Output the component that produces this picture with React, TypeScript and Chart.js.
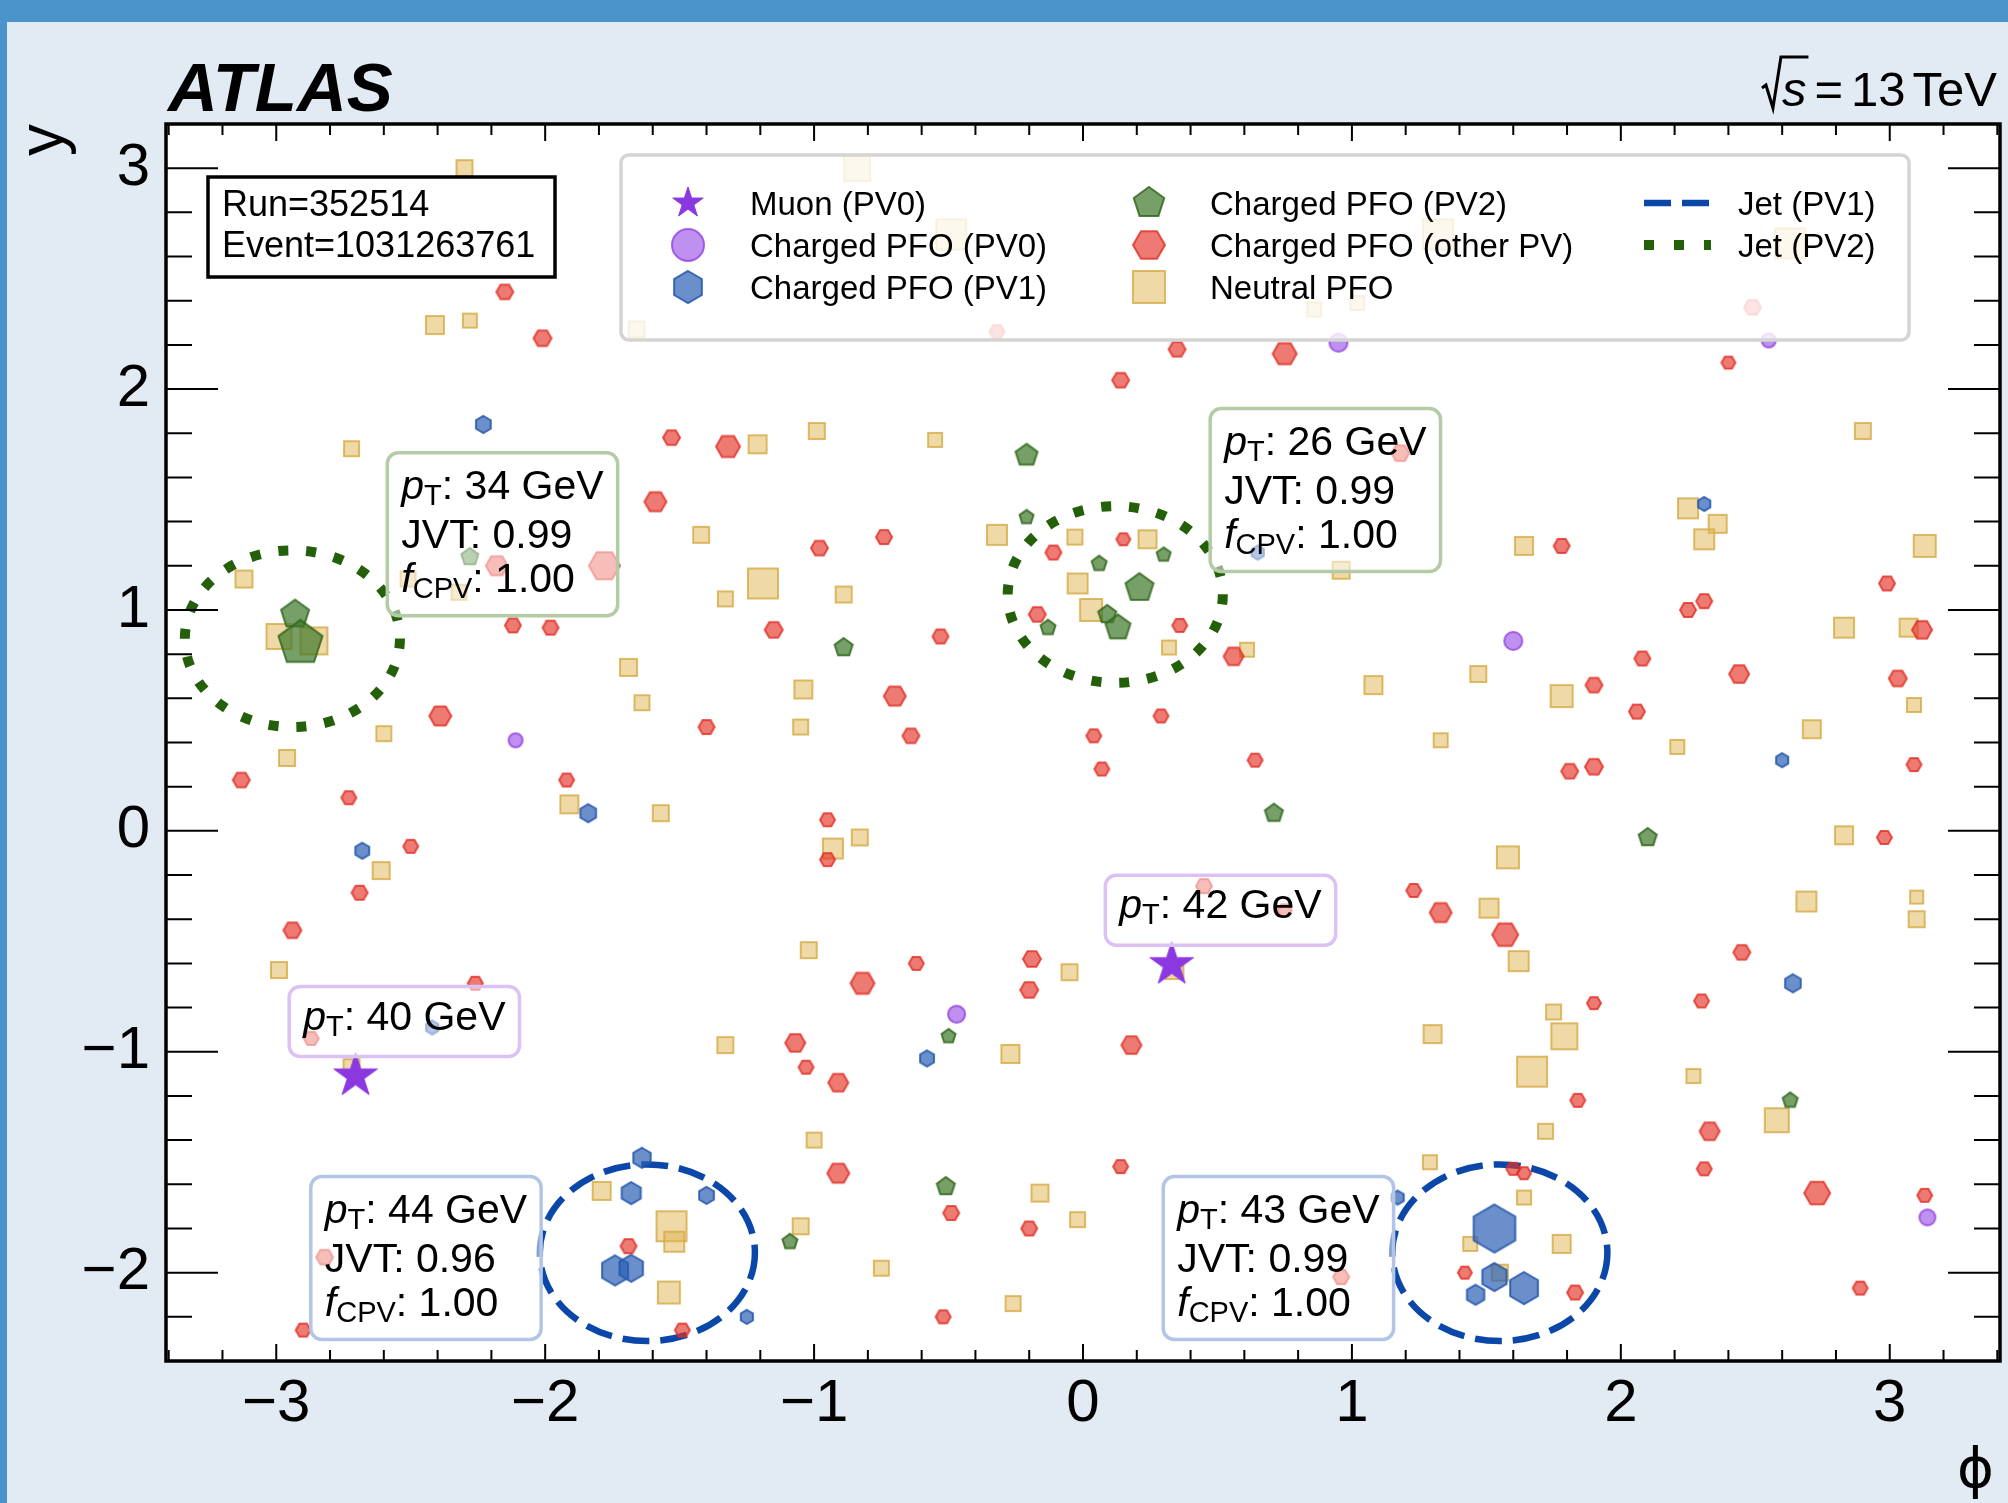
import React, { useEffect, useRef } from 'react';
import { Chart, registerables } from 'chart.js';

Chart.register(...registerables);

const W = 2008;
const H = 1503;
const PLOT = { left: 166, top: 124, right: 2000, bottom: 1361 };
const FONT = '"Liberation Sans", Arial, Helvetica, sans-serif';

// ---------------- axes ----------------
const X_MIN = -3.41;
const X_MAX = 3.41;
const Y_MIN = -2.4;
const Y_MAX = 3.2;
const X_TICKS = [-3, -2, -1, 0, 1, 2, 3];
const Y_TICKS = [-2, -1, 0, 1, 2, 3];

// ---------------- event info ----------------
const RUN = '352514';
const EVENT = '1031263761';

// ---------------- jets ----------------
const JET_PHI = [-2.94, 0.12, -1.62, 1.55];
const JET_Y = [0.87, 1.07, -1.91, -1.91];
const JET_PT = [34, 26, 44, 43];
const JET_JVT = ['0.99', '0.99', '0.96', '0.99'];
const JET_FCPV = ['1.00', '1.00', '1.00', '1.00'];
const JET_VTX = ['PV2', 'PV2', 'PV1', 'PV1'];
const JET_R = 0.4;

// ---------------- muons ----------------
const MUON_PHI = [-2.705, 0.33];
const MUON_Y = [-1.11, -0.606];
const MUON_PT = [40, 42];

// ---------------- PFOs: [phi, y, energy weight] ----------------
const NEUTRAL_PFO: number[][] = [
  [-2.30, 3.00, 1.6], [-2.41, 2.29, 1.8], [-2.28, 2.31, 1.4], [-0.84, 3.00, 2.6], [-0.49, 2.70, 3.0],
  [-1.66, 2.27, 1.6], [-2.72, 1.73, 1.5], [-1.21, 1.75, 1.8], [-0.99, 1.81, 1.6], [-0.55, 1.77, 1.4],
  [-1.42, 1.34, 1.6], [-3.12, 1.14, 1.7], [-2.51, 1.14, 1.5], [-2.32, 1.08, 1.5], [-1.19, 1.12, 3.0],
  [-1.33, 1.05, 1.5], [-0.89, 1.07, 1.6], [-0.32, 1.34, 2.0], [-0.03, 1.33, 1.5], [-0.02, 1.12, 2.0],
  [0.03, 1.00, 2.2], [-2.99, 0.88, 2.5], [-2.86, 0.86, 2.7], [-1.69, 0.74, 1.7], [-1.64, 0.58, 1.5],
  [-1.04, 0.64, 1.8], [-1.05, 0.47, 1.5], [-2.60, 0.44, 1.5], [-2.96, 0.33, 1.6], [0.24, 1.32, 1.8],
  [0.32, 0.83, 1.4], [0.61, 0.82, 1.4], [0.96, 1.18, 1.7], [1.08, 0.66, 1.8], [1.32, 2.70, 3.0],
  [2.63, 2.66, 3.0], [0.86, 2.36, 1.4], [1.02, 2.39, 1.4], [2.90, 1.81, 1.6], [2.25, 1.46, 2.0],
  [2.36, 1.39, 1.8], [2.31, 1.32, 2.0], [3.13, 1.29, 2.2], [1.64, 1.29, 1.8], [2.83, 0.92, 2.0],
  [3.07, 0.92, 1.8], [1.47, 0.71, 1.6], [1.78, 0.61, 2.2], [3.09, 0.57, 1.4], [2.71, 0.46, 1.8],
  [1.33, 0.41, 1.4], [2.21, 0.38, 1.4], [-1.91, 0.12, 1.8], [-1.57, 0.08, 1.6], [-2.61, -0.18, 1.7],
  [-0.93, -0.08, 2.0], [-0.83, -0.03, 1.6], [-2.99, -0.63, 1.6], [-1.02, -0.54, 1.6], [-0.05, -0.64, 1.6],
  [-1.33, -0.97, 1.6], [-0.27, -1.01, 1.8], [-1.00, -1.40, 1.5], [-1.79, -1.63, 1.8], [-1.53, -1.79, 3.0],
  [-1.52, -1.86, 2.0], [-1.54, -2.09, 2.2], [-1.05, -1.79, 1.6], [-0.75, -1.98, 1.5], [-0.16, -1.64, 1.7],
  [-0.02, -1.76, 1.5], [-0.26, -2.14, 1.5], [-2.72, -1.07, 1.6], [2.83, -0.02, 1.8], [1.58, -0.12, 2.2],
  [2.69, -0.32, 2.0], [3.10, -0.30, 1.3], [3.10, -0.40, 1.6], [1.51, -0.35, 1.9], [1.62, -0.59, 2.0],
  [0.34, -0.63, 1.8], [1.75, -0.82, 1.5], [1.30, -0.92, 1.8], [1.79, -0.93, 2.6], [1.67, -1.09, 3.0],
  [2.27, -1.11, 1.4], [2.58, -1.31, 2.4], [1.72, -1.36, 1.5], [1.29, -1.50, 1.4], [1.64, -1.66, 1.4],
  [1.78, -1.87, 1.8], [1.44, -1.87, 1.4], [1.55, -2.00, 1.6],
];

const OTHER_PV_PFO: number[][] = [
  [-2.15, 2.44, 1.7], [-2.01, 2.23, 1.8], [-1.53, 1.78, 1.7], [-1.32, 1.74, 2.4], [-1.59, 1.49, 2.2],
  [-0.74, 1.33, 1.6], [-0.98, 1.28, 1.7], [-0.11, 1.26, 1.6], [-0.17, 0.98, 1.7], [-2.18, 1.20, 2.2],
  [-1.78, 1.20, 3.1], [-2.12, 0.93, 1.6], [-1.98, 0.92, 1.6], [-1.15, 0.91, 1.8], [-0.53, 0.88, 1.6],
  [-0.70, 0.61, 2.2], [-2.39, 0.52, 2.2], [-1.40, 0.47, 1.6], [-0.64, 0.43, 1.7], [-0.32, 2.26, 1.5],
  [0.15, 1.32, 1.4], [0.36, 0.93, 1.5], [0.56, 0.79, 2.0], [0.29, 0.52, 1.5], [0.04, 0.43, 1.5],
  [0.35, 2.18, 1.7], [0.75, 2.16, 2.4], [0.14, 2.04, 1.7], [2.40, 2.12, 1.4], [2.49, 2.37, 1.7],
  [1.18, 1.71, 1.8], [1.78, 1.29, 1.6], [2.99, 1.12, 1.6], [2.31, 1.04, 1.6], [2.25, 1.00, 1.6],
  [3.12, 0.91, 2.0], [2.08, 0.78, 1.6], [2.44, 0.71, 2.0], [1.90, 0.66, 1.7], [3.03, 0.69, 1.8],
  [2.06, 0.54, 1.6], [-3.13, 0.23, 1.7], [-2.73, 0.15, 1.5], [-2.50, -0.07, 1.5], [-2.69, -0.28, 1.6],
  [-2.94, -0.45, 1.8], [-1.92, 0.23, 1.5], [-2.26, -0.69, 1.5], [-2.87, -0.94, 1.5], [-0.95, 0.05, 1.5],
  [-0.95, -0.13, 1.5], [-0.82, -0.69, 2.4], [-0.62, -0.60, 1.5], [-0.19, -0.58, 1.8], [-0.20, -0.72, 1.8],
  [-1.07, -0.96, 2.0], [-1.03, -1.07, 1.5], [-0.91, -1.14, 2.0], [-0.91, -1.55, 2.2], [-0.49, -1.73, 1.6],
  [-0.20, -1.80, 1.6], [-1.69, -1.88, 1.6], [-2.82, -1.93, 1.7], [-2.90, -2.26, 1.5], [-1.49, -2.26, 1.5],
  [-0.52, -2.20, 1.5], [0.07, 0.28, 1.5], [0.64, 0.32, 1.5], [1.81, 0.27, 1.7], [1.90, 0.29, 1.8],
  [3.09, 0.30, 1.5], [2.98, -0.03, 1.5], [0.45, -0.25, 1.6], [0.75, -0.36, 1.4], [1.23, -0.27, 1.5],
  [1.33, -0.37, 2.2], [1.57, -0.47, 2.6], [2.45, -0.55, 1.7], [2.30, -0.77, 1.5], [1.90, -0.78, 1.4],
  [0.18, -0.97, 2.0], [1.84, -1.22, 1.5], [2.33, -1.36, 2.0], [0.14, -1.52, 1.5], [2.31, -1.53, 1.5],
  [1.60, -1.53, 1.4], [1.64, -1.55, 1.4], [2.73, -1.64, 2.6], [3.13, -1.65, 1.5], [1.42, -2.00, 1.4],
  [1.83, -2.09, 1.6], [2.89, -2.07, 1.5], [0.96, -2.02, 1.6],
];

const PV2_PFO: number[][] = [
  [-0.21, 1.70, 2.2], [-2.28, 1.24, 1.7], [-2.93, 0.98, 2.8], [-2.91, 0.85, 4.4], [-0.89, 0.83, 1.8],
  [-0.21, 1.42, 1.4], [-0.13, 0.92, 1.5], [0.06, 1.21, 1.5], [0.30, 1.25, 1.4], [0.21, 1.10, 2.8],
  [0.09, 0.98, 1.8], [0.13, 0.92, 2.5], [-0.50, -0.93, 1.4], [-0.51, -1.61, 1.8], [-1.09, -1.86, 1.5],
  [0.71, 0.08, 1.8], [2.10, -0.03, 1.8], [2.63, -1.22, 1.5],
];

const PV1_PFO: number[][] = [
  [-2.23, 1.84, 1.7], [0.65, 1.26, 1.4], [2.31, 1.48, 1.4], [-2.68, -0.09, 1.6], [-1.84, 0.08, 1.8],
  [-2.42, -0.89, 1.4], [-0.58, -1.03, 1.6], [-1.64, -1.48, 2.0], [-1.68, -1.64, 2.2], [-1.40, -1.65, 1.7],
  [-1.74, -1.99, 3.0], [-1.68, -1.98, 2.7], [-1.25, -2.20, 1.4], [2.60, 0.32, 1.4], [2.64, -0.69, 1.8],
  [1.17, -1.66, 1.4], [1.53, -1.80, 4.8], [1.53, -2.02, 2.8], [1.64, -2.07, 3.2], [1.46, -2.10, 2.0],
];

const PV0_PFO: number[][] = [
  [-2.11, 0.41, 1.4], [-0.47, -0.83, 1.7], [0.95, 2.21, 1.8], [2.55, 2.22, 1.4], [1.60, 0.86, 1.8],
  [3.14, -1.75, 1.6],
];

// ---------------- style ----------------
const C = {
  pageBg: '#e2eaf4',
  bar: '#4a93cb',
  neutralFill: 'rgba(222,180,80,0.5)',
  neutralEdge: 'rgba(214,170,70,0.8)',
  otherFill: 'rgba(228,50,40,0.65)',
  otherEdge: 'rgba(225,45,35,0.8)',
  pv2Fill: 'rgba(61,118,40,0.7)',
  pv2Edge: 'rgba(50,105,30,0.85)',
  pv1Fill: 'rgba(43,95,180,0.7)',
  pv1Edge: 'rgba(35,85,170,0.85)',
  pv0Fill: 'rgba(150,70,230,0.6)',
  pv0Edge: 'rgba(145,65,225,0.8)',
  muon: '#8c38e0',
  jetPV1: '#0a47a9',
  jetPV2: '#245f0a',
  boxPV2: '#b4cca6',
  boxPV1: '#b2c5e6',
  boxMuon: '#dcc1f5',
  legendEdge: '#d4d4d4',
};

type Kind = { shape: string; fill: string; edge: string; lw: number; k: number };
const KINDS: Record<string, Kind> = {
  neutral: { shape: 'square', fill: C.neutralFill, edge: C.neutralEdge, lw: 2, k: 5 },
  other: { shape: 'hexH', fill: C.otherFill, edge: C.otherEdge, lw: 2, k: 5 },
  pv2: { shape: 'pent', fill: C.pv2Fill, edge: C.pv2Edge, lw: 2, k: 5.26 },
  pv1: { shape: 'hexV', fill: C.pv1Fill, edge: C.pv1Edge, lw: 2, k: 5 },
  pv0: { shape: 'circle', fill: C.pv0Fill, edge: C.pv0Edge, lw: 2, k: 5 },
  muon: { shape: 'star', fill: C.muon, edge: C.muon, lw: 1, k: 0 },
};
const MUON_R = 23;

function shapePath(g: CanvasRenderingContext2D, shape: string, x: number, y: number, r: number) {
  g.beginPath();
  if (shape === 'square') {
    g.rect(x - r, y - r, 2 * r, 2 * r);
  } else if (shape === 'circle') {
    g.arc(x, y, r, 0, Math.PI * 2);
  } else {
    let n = 6;
    let start = -Math.PI / 2;
    let inner = 0;
    if (shape === 'hexH') start = 0;
    if (shape === 'pent') n = 5;
    if (shape === 'star') {
      n = 5;
      inner = 0.382;
    }
    const pts = inner ? n * 2 : n;
    for (let i = 0; i < pts; i++) {
      const ang = start + (i * 2 * Math.PI) / pts;
      const rr = inner && i % 2 === 1 ? r * inner : r;
      const px = x + rr * Math.cos(ang);
      const py = y + rr * Math.sin(ang);
      if (i === 0) g.moveTo(px, py);
      else g.lineTo(px, py);
    }
    g.closePath();
  }
}

function drawMarker(g: CanvasRenderingContext2D, kind: Kind, x: number, y: number, r: number) {
  shapePath(g, kind.shape, x, y, r);
  g.fillStyle = kind.fill;
  g.fill();
  g.lineWidth = kind.lw;
  g.strokeStyle = kind.edge;
  g.lineJoin = 'miter';
  g.stroke();
}

function makeMarkerCanvas(kind: Kind, r: number) {
  const size = Math.ceil(2 * r + kind.lw + 6);
  const c = document.createElement('canvas');
  c.width = size;
  c.height = size;
  const g = c.getContext('2d') as CanvasRenderingContext2D;
  drawMarker(g, kind, size / 2, size / 2, r);
  return c;
}

function makeDataset(label: string, pts: number[][], kind: Kind, order: number, fixedR?: number) {
  const radii = pts.map((p) => (fixedR ? fixedR : p[2] * kind.k));
  const styles = radii.map((r) => makeMarkerCanvas(kind, r));
  return {
    label,
    data: pts.map((p) => ({ x: p[0], y: p[1] })),
    pointStyle: (c: any) => (c.dataIndex !== undefined ? styles[c.dataIndex] : 'circle'),
    pointRadius: (c: any) => (c.dataIndex !== undefined ? radii[c.dataIndex] : 5),
    order,
  };
}

const fmt = (v: number) => (v < 0 ? '\u2212' + Math.abs(v) : String(v));

type Part = [string, 'i' | 'n' | 's'];
function richLine(g: CanvasRenderingContext2D, x: number, y: number, parts: Part[], fs: number, draw: boolean) {
  let cx = x;
  for (const [t, st] of parts) {
    if (st === 'i') g.font = `italic ${fs}px ${FONT}`;
    else if (st === 's') g.font = `${Math.round(fs * 0.7)}px ${FONT}`;
    else g.font = `${fs}px ${FONT}`;
    if (draw) g.fillText(t, cx, st === 's' ? y + fs * 0.15 : y);
    cx += g.measureText(t).width;
  }
  return cx - x;
}

function roundRect(g: CanvasRenderingContext2D, x: number, y: number, w: number, h: number, r: number) {
  g.beginPath();
  g.moveTo(x + r, y);
  g.arcTo(x + w, y, x + w, y + h, r);
  g.arcTo(x + w, y + h, x, y + h, r);
  g.arcTo(x, y + h, x, y, r);
  g.arcTo(x, y, x + w, y, r);
  g.closePath();
}

const BOX_FS = 41;

function infoBox(g: CanvasRenderingContext2D, x: number, y: number, lines: Part[][], border: string, baselines: number[], h: number) {
  const pad = 14;
  const wMax = Math.max(...lines.map((l) => richLine(g, 0, 0, l, BOX_FS, false)));
  const w = wMax + 2 * pad;
  g.save();
  roundRect(g, x, y, w, h, 11);
  g.fillStyle = 'rgba(255,255,255,0.5)';
  g.fill();
  g.lineWidth = 3.5;
  g.strokeStyle = border;
  g.stroke();
  g.fillStyle = '#000';
  g.textBaseline = 'alphabetic';
  g.textAlign = 'left';
  lines.forEach((l, i) => richLine(g, x + pad, y + baselines[i], l, BOX_FS, true));
  g.restore();
  return w;
}

const decorPlugin = {
  id: 'atlasDecor',
  beforeDraw(chart: any) {
    const g: CanvasRenderingContext2D = chart.ctx;
    const a = chart.chartArea;
    g.save();
    g.fillStyle = C.pageBg;
    g.fillRect(0, 0, W, H);
    g.fillStyle = C.bar;
    g.fillRect(0, 0, W, 22);
    g.fillRect(0, 0, 7, H);
    g.fillStyle = '#ffffff';
    g.fillRect(a.left, a.top, a.right - a.left, a.bottom - a.top);
    g.restore();
  },
  beforeDatasetsDraw(chart: any) {
    const g: CanvasRenderingContext2D = chart.ctx;
    const xs = chart.scales.x;
    const ys = chart.scales.y;
    JET_PHI.forEach((phi, i) => {
      const cx = xs.getPixelForValue(phi);
      const cy = ys.getPixelForValue(JET_Y[i]);
      const rx = Math.abs(xs.getPixelForValue(phi + JET_R) - cx);
      const ry = Math.abs(ys.getPixelForValue(JET_Y[i] + JET_R) - cy);
      const pv1 = JET_VTX[i] === 'PV1';
      g.save();
      g.beginPath();
      g.ellipse(cx, cy, rx, ry, 0, 0, Math.PI * 2);
      g.strokeStyle = pv1 ? C.jetPV1 : C.jetPV2;
      g.lineWidth = pv1 ? 6.5 : 10;
      g.setLineDash(pv1 ? [27, 11] : [10, 18]);
      g.lineCap = 'butt';
      g.stroke();
      g.restore();
    });
  },
  afterDatasetsDraw(chart: any) {
    const g: CanvasRenderingContext2D = chart.ctx;
    const a = chart.chartArea;
    const xs = chart.scales.x;
    const ys = chart.scales.y;

    // jet annotation boxes
    JET_PHI.forEach((phi, i) => {
      const lines: Part[][] = [
        [['p', 'i'], ['T', 's'], [`: ${JET_PT[i]} GeV`, 'n']],
        [[`JVT: ${JET_JVT[i]}`, 'n']],
        [['f', 'i'], ['CPV', 's'], [`: ${JET_FCPV[i]}`, 'n']],
      ];
      const top = ys.getPixelForValue(JET_Y[i] + (JET_VTX[i] === 'PV1' ? 0.345 : 0.842));
      const pad = 14;
      const wMax = Math.max(...lines.map((l) => richLine(g, 0, 0, l, BOX_FS, false)));
      let left: number;
      if (JET_VTX[i] === 'PV1') left = xs.getPixelForValue(phi - 0.395) - (wMax + 2 * pad);
      else left = xs.getPixelForValue(phi + 0.353);
      infoBox(g, left, top, lines, JET_VTX[i] === 'PV1' ? C.boxPV1 : C.boxPV2, [46, 95, 139], 163);
    });

    // muon boxes
    MUON_PHI.forEach((phi, i) => {
      const left = xs.getPixelForValue(phi - 0.247);
      const top = ys.getPixelForValue(MUON_Y[i] + 0.405);
      infoBox(g, left, top, [[['p', 'i'], ['T', 's'], [`: ${MUON_PT[i]} GeV`, 'n']]], C.boxMuon, [43], 70);
    });

    // legend
    g.save();
    roundRect(g, 621, 155, 1288, 185, 8);
    g.fillStyle = 'rgba(255,255,255,0.8)';
    g.fill();
    g.lineWidth = 3.5;
    g.strokeStyle = C.legendEdge;
    g.stroke();
    const rows = [203, 245, 287];
    const lfs = 33;
    g.font = `${lfs}px ${FONT}`;
    g.fillStyle = '#000';
    g.textAlign = 'left';
    g.textBaseline = 'alphabetic';
    const col1: [Kind, string][] = [
      [KINDS.muon, 'Muon (PV0)'],
      [KINDS.pv0, 'Charged PFO (PV0)'],
      [KINDS.pv1, 'Charged PFO (PV1)'],
    ];
    const col2: [Kind, string][] = [
      [KINDS.pv2, 'Charged PFO (PV2)'],
      [KINDS.other, 'Charged PFO (other PV)'],
      [KINDS.neutral, 'Neutral PFO'],
    ];
    col1.forEach(([k, t], i) => {
      drawMarker(g, k, 688, rows[i], 16);
      g.fillStyle = '#000';
      g.fillText(t, 750, rows[i] + 11.5);
    });
    col2.forEach(([k, t], i) => {
      drawMarker(g, k, 1149, rows[i], 16);
      g.fillStyle = '#000';
      g.fillText(t, 1210, rows[i] + 11.5);
    });
    const jetsLeg: [string, number, number[], string][] = [
      [C.jetPV1, 6.5, [27, 11], 'Jet (PV1)'],
      [C.jetPV2, 10, [10, 20], 'Jet (PV2)'],
    ];
    jetsLeg.forEach(([col, lw, dash, t], i) => {
      g.save();
      g.beginPath();
      g.moveTo(1644, rows[i]);
      g.lineTo(1711, rows[i]);
      g.strokeStyle = col;
      g.lineWidth = lw;
      g.setLineDash(dash);
      g.lineCap = 'butt';
      g.stroke();
      g.restore();
      g.fillStyle = '#000';
      g.fillText(t, 1738, rows[i] + 11.5);
    });
    g.restore();

    // run / event box
    g.save();
    g.fillStyle = '#ffffff';
    g.fillRect(208, 177, 347, 100);
    g.lineWidth = 3.5;
    g.strokeStyle = '#000';
    g.strokeRect(208, 177, 347, 100);
    g.fillStyle = '#000';
    g.font = `36px ${FONT}`;
    g.textAlign = 'left';
    g.textBaseline = 'alphabetic';
    g.fillText(`Run=${RUN}`, 222, 216);
    g.fillText(`Event=${EVENT}`, 222, 257);
    g.restore();

    // frame and inward ticks
    g.save();
    g.strokeStyle = '#000';
    g.lineWidth = 2;
    g.beginPath();
    for (let k = -17; k <= 17; k++) {
      const v = k * 0.2;
      if (v <= X_MIN || v >= X_MAX) continue;
      const len = k % 5 === 0 ? 17 : 11;
      const px = xs.getPixelForValue(v);
      g.moveTo(px, a.bottom);
      g.lineTo(px, a.bottom - len);
      g.moveTo(px, a.top);
      g.lineTo(px, a.top + len);
    }
    for (let k = -12; k <= 16; k++) {
      const v = k * 0.2;
      if (v <= Y_MIN + 1e-9 || v >= Y_MAX - 1e-9) continue;
      const len = k % 5 === 0 ? 52 : 26;
      const py = ys.getPixelForValue(v);
      g.moveTo(a.left, py);
      g.lineTo(a.left + len, py);
      g.moveTo(a.right, py);
      g.lineTo(a.right - len, py);
    }
    g.stroke();
    g.lineWidth = 3.5;
    g.strokeRect(a.left, a.top, a.right - a.left, a.bottom - a.top);
    g.restore();
  },
  afterDraw(chart: any) {
    const g: CanvasRenderingContext2D = chart.ctx;
    const a = chart.chartArea;
    g.save();
    g.fillStyle = '#000';
    // ATLAS
    g.font = `italic bold 69px ${FONT}`;
    g.textAlign = 'left';
    g.textBaseline = 'alphabetic';
    g.fillText('ATLAS', 168, 111);
    // sqrt(s) = 13 TeV
    const fs = 49;
    g.font = `${fs}px ${FONT}`;
    g.textAlign = 'right';
    g.fillText('TeV', 1997, 106);
    const wTeV = g.measureText('TeV').width;
    const x13 = 1997 - wTeV - 7;
    g.fillText('13', x13, 106);
    const w13 = g.measureText('13').width;
    const xEq = x13 - w13 - 8;
    g.fillText('=', xEq, 106);
    const wEq = g.measureText('=').width;
    const xS = xEq - wEq - 8;
    g.font = `italic ${fs}px ${FONT}`;
    g.fillText('s', xS, 106);
    const wS = g.measureText('s').width;
    const sl = xS - wS;
    g.beginPath();
    g.moveTo(sl - 20, 88);
    g.lineTo(sl - 16, 85);
    g.lineTo(sl - 9, 108);
    g.lineTo(sl - 1, 57);
    g.lineTo(xS + 2, 57);
    g.lineWidth = 3;
    g.strokeStyle = '#000';
    g.lineJoin = 'miter';
    g.stroke();
    // axis titles
    g.font = `56px "DejaVu Sans", ${FONT}`;
    g.textAlign = 'right';
    g.fillText('\u03D5', a.right - 6, 1487);
    g.save();
    g.translate(63, a.top);
    g.rotate(-Math.PI / 2);
    g.font = `64px ${FONT}`;
    g.textAlign = 'right';
    g.fillText('y', 0, 0);
    g.restore();
    g.restore();
  },
};

export default function App() {
  const ref = useRef<HTMLCanvasElement>(null);
  useEffect(() => {
    document.body.style.margin = '0';
    const canvas = ref.current as HTMLCanvasElement;
    const datasets = [
      makeDataset('Muon (PV0)', MUON_PHI.map((p, i) => [p, MUON_Y[i], MUON_PT[i]]), KINDS.muon, 1, MUON_R),
      makeDataset('Charged PFO (PV0)', PV0_PFO, KINDS.pv0, 2),
      makeDataset('Charged PFO (PV1)', PV1_PFO, KINDS.pv1, 3),
      makeDataset('Charged PFO (PV2)', PV2_PFO, KINDS.pv2, 4),
      makeDataset('Charged PFO (other PV)', OTHER_PV_PFO, KINDS.other, 5),
      makeDataset('Neutral PFO', NEUTRAL_PFO, KINDS.neutral, 6),
    ];
    const tickFont = { family: FONT, size: 60 };
    const chart = new Chart(canvas, {
      type: 'scatter',
      data: { datasets: datasets as any },
      plugins: [decorPlugin as any],
      options: {
        animation: false,
        responsive: false,
        devicePixelRatio: 1,
        events: [],
        layout: { padding: { top: PLOT.top, right: W - PLOT.right, left: 0, bottom: 0 }, autoPadding: false },
        plugins: { legend: { display: false }, tooltip: { enabled: false }, title: { display: false } },
        scales: {
          x: {
            type: 'linear',
            position: 'bottom',
            min: X_MIN,
            max: X_MAX,
            grid: { display: false, drawTicks: false },
            border: { display: false },
            afterBuildTicks: (s: any) => {
              s.ticks = X_TICKS.map((v) => ({ value: v }));
            },
            afterFit: (s: any) => {
              s.height = H - PLOT.bottom;
            },
            ticks: {
              autoSkip: false,
              maxRotation: 0,
              minRotation: 0,
              padding: 7,
              color: '#000',
              font: tickFont,
              callback: (v: any) => fmt(Number(v)),
            },
          },
          y: {
            type: 'linear',
            position: 'left',
            min: Y_MIN,
            max: Y_MAX,
            grid: { display: false, drawTicks: false },
            border: { display: false },
            afterBuildTicks: (s: any) => {
              s.ticks = Y_TICKS.map((v) => ({ value: v }));
            },
            afterFit: (s: any) => {
              s.width = PLOT.left;
            },
            ticks: {
              autoSkip: false,
              padding: 16,
              color: '#000',
              font: tickFont,
              callback: (v: any) => fmt(Number(v)),
            },
          },
        },
      } as any,
    });
    return () => chart.destroy();
  }, []);
  return (
    <div style={{ width: W, height: H, position: 'relative' }}>
      <canvas ref={ref} width={W} height={H} style={{ display: 'block', width: W, height: H }} />
    </div>
  );
}
